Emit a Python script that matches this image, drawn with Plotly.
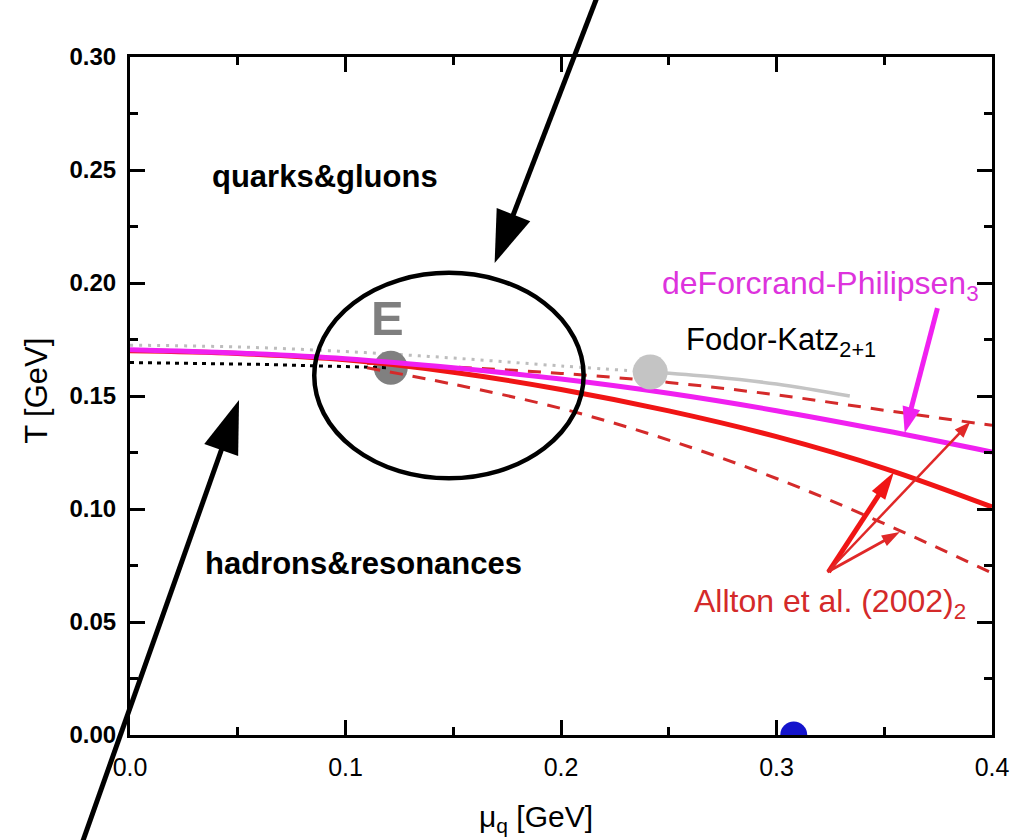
import math
import plotly.graph_objects as go

# ---------------- data ----------------
mag_mu = [0.0, 0.05, 0.10, 0.15, 0.20, 0.25, 0.30, 0.35, 0.40]
mag_T = [0.1705, 0.1690, 0.1665, 0.1625, 0.1575, 0.1512, 0.1435, 0.1347, 0.1252]

red_mu = [0.0, 0.05, 0.10, 0.15, 0.20, 0.25, 0.30, 0.35, 0.40]
red_T = [0.1700, 0.1688, 0.1660, 0.1605, 0.1529, 0.1434, 0.1320, 0.1180, 0.1009]

red_up_mu = [0.11, 0.15, 0.20, 0.25, 0.30, 0.35, 0.40]
red_up_T = [0.1645, 0.1628, 0.1600, 0.1560, 0.1505, 0.1437, 0.1370]

red_lo_mu = [0.11, 0.15, 0.20, 0.25, 0.30, 0.35, 0.40]
red_lo_T = [0.1625, 0.1552, 0.1445, 0.1305, 0.1135, 0.0935, 0.0717]

fk_mu = [0.2414, 0.27, 0.30, 0.334]
fk_T = [0.1606, 0.1585, 0.1553, 0.1500]

fk_ext_mu = [0.0, 0.05, 0.10, 0.15, 0.20, 0.2414]
fk_ext_T = [0.1725, 0.1717, 0.1697, 0.1668, 0.1633, 0.1606]

blk_dot_mu = [0.0, 0.06, 0.121]
blk_dot_T = [0.1648, 0.1640, 0.1625]

E_mu, E_T = [0.121], [0.1625]
FK_pt_mu, FK_pt_T = [0.2414], [0.1606]
nuc_mu, nuc_T = [0.308], [0.0]

x_ticks = [0.0, 0.1, 0.2, 0.3, 0.4]
x_ticktext = ["0.0", "0.1", "0.2", "0.3", "0.4"]
y_ticks = [0.0, 0.05, 0.10, 0.15, 0.20, 0.25, 0.30]
y_ticktext = ["0.00", "0.05", "0.10", "0.15", "0.20", "0.25", "0.30"]

X_RANGE = [0.0, 0.4]
Y_RANGE = [0.0, 0.30]

# ellipse (region around critical point)
ell_mu = [0.0855, 0.2105]
ell_T = [0.1136, 0.2045]

FONT = "Liberation Sans, Arial, Helvetica, sans-serif"
RED = "#f01515"
RED_D = "#d42a2a"
MAG = "#f020f0"

W_FIG, H_FIG = 1021, 840
M_L, M_R, M_T, M_B = 130, 21, 57, 105
PW = W_FIG - M_L - M_R
PH = H_FIG - M_T - M_B

fig = go.Figure()

def line(x, y, color, width, dash="solid", shape="spline"):
    fig.add_trace(go.Scatter(x=x, y=y, mode="lines",
                             line=dict(color=color, width=width, dash=dash, shape=shape),
                             showlegend=False, hoverinfo="skip"))

def dot(x, y, color, size):
    fig.add_trace(go.Scatter(x=x, y=y, mode="markers",
                             marker=dict(color=color, size=size, line=dict(width=0)),
                             showlegend=False, hoverinfo="skip", cliponaxis=True))

line(fk_ext_mu, fk_ext_T, "#bdbdbd", 3, "3px,6px")
dot(E_mu, E_T, "#808080", 34)
line(blk_dot_mu, blk_dot_T, "black", 3, "4px,5px", "linear")
line(red_up_mu, red_up_T, RED_D, 3, "13px,10px")
line(red_lo_mu, red_lo_T, RED_D, 3, "13px,10px")
line(red_mu, red_T, RED, 5)
line(mag_mu, mag_T, MAG, 5)
line(fk_mu, fk_T, "#c4c4c4", 3.5)
dot(FK_pt_mu, FK_pt_T, "#c4c4c4", 35)
dot(nuc_mu, nuc_T, "#1414cc", 27)

shapes = [dict(type="circle", xref="x", yref="y",
               x0=ell_mu[0], x1=ell_mu[1], y0=ell_T[0], y1=ell_T[1],
               line=dict(color="black", width=4.5), layer="above")]
annotations = []

def to_paper(mx, ty):
    return ((mx - X_RANGE[0]) / (X_RANGE[1] - X_RANGE[0]),
            (ty - Y_RANGE[0]) / (Y_RANGE[1] - Y_RANGE[0]))

def arrow(tx, ty, ax, ay, color, width, L, W):
    """tip in data units, tail offset (ax, ay) in screen pixels; filled triangular head"""
    n = math.hypot(ax, ay)
    dx, dy = -ax / n, -ay / n          # screen direction tail->tip
    # shaft (paper coords so it may leave the plot area), stops inside the head
    px0, py0 = to_paper(tx, ty)
    s = L * 0.6
    end_x = px0 + (-dx * s) / PW
    end_y = py0 + (dy * s) / PH
    tail_x = px0 + ax / PW
    tail_y = py0 - ay / PH
    shapes.append(dict(type="line", xref="paper", yref="paper",
                       x0=tail_x, y0=tail_y, x1=end_x, y1=end_y,
                       line=dict(color=color, width=width), layer="above"))
    bx, by = -L * dx, -L * dy           # base centre relative to tip
    qx, qy = -dy, dx
    c1 = (bx + qx * W / 2, by + qy * W / 2)
    c2 = (bx - qx * W / 2, by - qy * W / 2)
    path = "M0,0 L{:.2f},{:.2f} L{:.2f},{:.2f} Z".format(c1[0], -c1[1], c2[0], -c2[1])
    shapes.append(dict(type="path", xref="x", yref="y", xsizemode="pixel",
                       ysizemode="pixel", xanchor=tx, yanchor=ty, path=path,
                       fillcolor=color, line=dict(width=0), layer="above"))

arrow(0.1692, 0.2088, 103, -265, "black", 5, 52, 36)
arrow(0.0506, 0.1482, -158, 442, "black", 5, 53, 36)
arrow(0.3595, 0.1336, 33, -125, MAG, 5, 26, 18)
arrow(0.3545, 0.1164, -66, 100, RED, 5, 28, 16)
arrow(0.3899, 0.1385, -144, 150, "#e02828", 2.5, 16, 12)
arrow(0.3572, 0.0898, -73, 40, "#e02828", 3, 18, 12)

def label(x, y, text, size, color="black", bold=False, xanchor="center"):
    annotations.append(dict(x=x, y=y, xref="x", yref="y", text=text, showarrow=False,
                            xanchor=xanchor, yanchor="middle",
                            font=dict(family=FONT, size=size, color=color,
                                      weight="bold" if bold else "normal")))

label(0.0906, 0.2473, "quarks&amp;gluons", 31, bold=True)
label(0.1083, 0.0761, "hadrons&amp;resonances", 31, bold=True)
label(0.1195, 0.1845, "E", 49, "#7f7f7f", bold=True)
label(0.246, 0.1991, "deForcrand-Philipsen<sub>3</sub>", 32, "#dd33dd", xanchor="left")
label(0.257, 0.1739, "Fodor-Katz<sub>2+1</sub>", 31, "black", xanchor="left")
label(0.2607, 0.0584, "Allton et al. (2002)<sub>2</sub>", 32, RED_D, xanchor="left")

# axis titles placed as paper annotations (position)
annotations.append(dict(x=(540 - M_L) / PW, y=-(818 - (M_T + PH)) / PH, xref="paper", yref="paper",
                        text="μ<sub>q</sub> [GeV]", showarrow=False, xanchor="center", yanchor="middle",
                        font=dict(family=FONT, size=30, color="black")))
annotations.append(dict(x=-(M_L - 36) / PW, y=1 - (391 - M_T) / PH, xref="paper", yref="paper",
                        text="T [GeV]", showarrow=False, textangle=-90, xanchor="center", yanchor="middle",
                        font=dict(family=FONT, size=31, color="black")))

axis_common = dict(showline=True, linecolor="black", linewidth=3, mirror="allticks",
                   ticks="inside", ticklen=15, tickwidth=3, tickcolor="black",
                   showgrid=False, zeroline=False)

fig.update_layout(
    width=W_FIG, height=H_FIG,
    margin=dict(l=M_L, r=M_R, t=M_T, b=M_B),
    paper_bgcolor="white", plot_bgcolor="white",
    font=dict(family=FONT, color="black"),
    shapes=shapes, annotations=annotations,
    xaxis=dict(range=X_RANGE, tickvals=x_ticks, ticktext=x_ticktext,
               tickfont=dict(size=25, family=FONT), ticklabelstandoff=8,
               minor=dict(dtick=0.05, ticks="inside", ticklen=8, tickwidth=3, tickcolor="black"),
               **axis_common),
    yaxis=dict(range=Y_RANGE, tickvals=y_ticks, ticktext=y_ticktext,
               tickfont=dict(size=24, family=FONT, weight="bold"), ticklabelstandoff=6,
               minor=dict(dtick=0.025, ticks="inside", ticklen=8, tickwidth=3, tickcolor="black"),
               **axis_common),
)

fig.write_html("out.html")
